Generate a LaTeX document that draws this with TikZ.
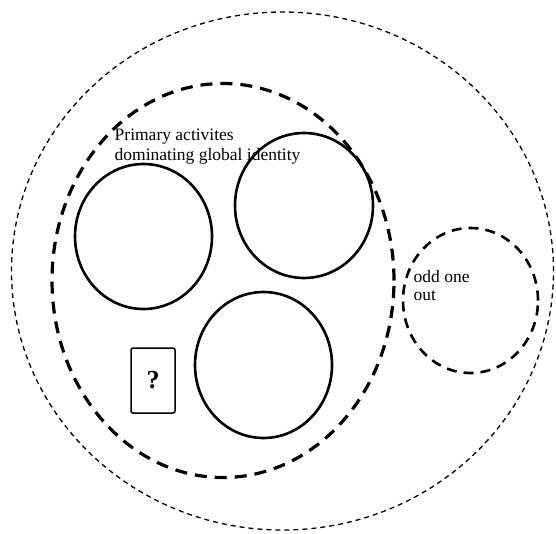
\documentclass[tikz,border=0pt]{standalone}
\usepackage{fontspec}
\setmainfont{Liberation Serif}
\usetikzlibrary{shapes.geometric}
\begin{document}
\begin{tikzpicture}[x=1pt,y=-1pt,
  lbl/.style={font=\fontsize{17.5}{20}\selectfont, inner sep=0pt, anchor=base west},
  blob/.style={ellipse, draw, inner sep=0pt, outer sep=0pt},
  ring/.style={blob, line width=2.6pt},
  outerline/.style={blob, line width=1.3pt, dash pattern=on 5pt off 4pt},
  groupline/.style={blob, line width=3.2pt, dash pattern=on 12pt off 8pt},
  oddline/.style={blob, line width=2.6pt, dash pattern=on 10pt off 7pt},
  qbox/.style={draw, line width=1.5pt, rounded corners=2pt, minimum width=44pt, minimum height=65pt, inner sep=0pt, font=\fontsize{26}{28}\selectfont\bfseries}]
\useasboundingbox (0,0) rectangle (556,533);
\node[outerline, minimum width=542pt, minimum height=518pt] (outer) at (282.5,271) {};
\node[groupline, minimum width=342pt, minimum height=394pt] (group) at (223,280.5) {};
\node[ring, minimum width=137pt, minimum height=145pt] (c1) at (143.5,236.5) {};
\node[ring, minimum width=138pt, minimum height=145pt] (c2) at (304,205.5) {};
\node[ring, minimum width=137pt, minimum height=146pt] (c3) at (263.5,365) {};
\node[oddline, minimum width=135pt, minimum height=145pt] (odd) at (470.5,300.5) {};
\node[qbox] (q) at (153,380.5) {?};
\node[lbl] (t1) at (114.5,140) {Primary activites};
\node[lbl] (t2) at (114.5,160.5) {dominating global identity};
\node[lbl] (o1) at (413.5,282) {odd one};
\node[lbl] (o2) at (413.5,300) {out};
\end{tikzpicture}
\end{document}
